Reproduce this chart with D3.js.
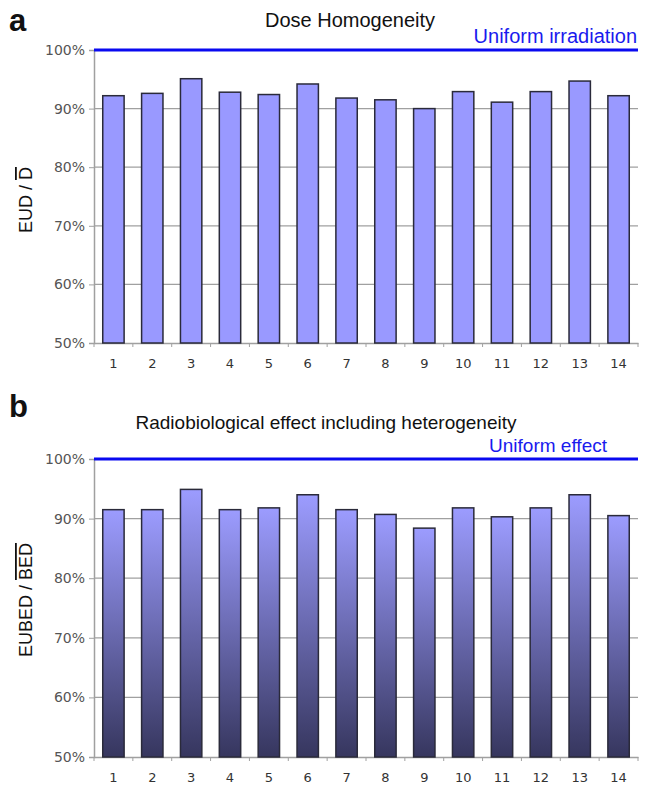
<!DOCTYPE html>
<html><head><meta charset="utf-8">
<script src="https://cdn.jsdelivr.net/npm/d3@7"></script>
<style>body{margin:0;background:#fff}</style>
</head><body>
<svg id="c" width="646" height="789"></svg>
<script>
const categories = ["1","2","3","4","5","6","7","8","9","10","11","12","13","14"];
const doseHomogeneity = [92.2, 92.6, 95.1, 92.8, 92.4, 94.2, 91.8, 91.5, 90.0, 92.9, 91.1, 92.9, 94.7, 92.2];
const radioEffect = [91.5, 91.5, 94.9, 91.5, 91.8, 94.0, 91.5, 90.7, 88.4, 91.8, 90.3, 91.8, 94.0, 90.5];
const yTicks = [50, 60, 70, 80, 90, 100];

const svg = d3.select("#c");
const defs = svg.append("defs");
const grad = defs.append("linearGradient").attr("id","g").attr("x1",0).attr("y1",0).attr("x2",0).attr("y2",1);
grad.append("stop").attr("offset","0%").attr("stop-color","#9c9cff");
grad.append("stop").attr("offset","100%").attr("stop-color","#36365e");

function panel(opt){
  const x = d3.scaleBand().domain(categories).range([94, 638]).paddingInner(0.45).paddingOuter(0.225);
  const y = d3.scaleLinear().domain([50,100]).range([opt.yb, opt.yt]);
  const g = svg.append("g");
  g.selectAll(".grid").data(yTicks.slice(1,5)).join("line")
    .attr("x1",94).attr("x2",638).attr("y1",d=>y(d)).attr("y2",d=>y(d))
    .attr("stroke","#a0a0a0").attr("stroke-width",1.2);
  const ya = g.append("g").attr("transform","translate(94,0)")
    .call(d3.axisLeft(y).tickValues(yTicks).tickFormat(d=>d+"%").tickSize(5).tickPadding(4));
  ya.select(".domain").attr("stroke","#a0a0a0").attr("stroke-width",1.5);
  ya.selectAll(".tick line").attr("stroke","#a0a0a0");
  ya.selectAll("text").attr("font-family","DejaVu Sans").attr("font-size",14).attr("fill","#555");
  const xa = g.append("g").attr("transform",`translate(0,${opt.yb})`)
    .call(d3.axisBottom(x).tickSize(0).tickPadding(16));
  xa.select(".domain").attr("stroke","#a0a0a0").attr("stroke-width",1.5);
  xa.selectAll("text").attr("font-family","DejaVu Sans").attr("font-size",13).attr("fill","#333");
  g.selectAll(".xt").data(d3.range(categories.length+1)).join("line")
    .attr("x1",d=>94+d*x.step()).attr("x2",d=>94+d*x.step())
    .attr("y1",opt.yb).attr("y2",opt.yb+4).attr("stroke","#a0a0a0");
  g.selectAll(".bar").data(opt.values).join("rect")
    .attr("x",(d,i)=>x(categories[i])).attr("width",x.bandwidth())
    .attr("y",d=>y(d)).attr("height",d=>y(50)-y(d))
    .attr("fill",opt.fill).attr("stroke","#2a2a3a").attr("stroke-width",1.5);
  g.append("line").attr("x1",94).attr("x2",638).attr("y1",y(100)).attr("y2",y(100))
    .attr("stroke","#0a0af0").attr("stroke-width",3);
  g.append("text").attr("x",opt.ulx).attr("y",y(100)-7).attr("text-anchor","end")
    .attr("font-family","Liberation Sans").attr("font-size",opt.ufs).attr("fill","#1a1aee").text(opt.uniform);
  g.append("text").attr("x",9).attr("y",opt.letterY).attr("font-family","Liberation Sans")
    .attr("font-weight","bold").attr("font-size",31).attr("fill","#111").text(opt.letter);
  g.append("text").attr("x",opt.titleX).attr("y",opt.titleY).attr("text-anchor","middle")
    .attr("font-family","Liberation Sans").attr("font-size",opt.tfs).attr("fill","#111").text(opt.title);
  const yl = g.append("text").attr("transform",`translate(32,${opt.ylY}) rotate(-90)`)
    .attr("text-anchor","middle").attr("font-family","Liberation Sans").attr("font-size",18).attr("fill","#111");
  yl.append("tspan").text(opt.ylab[0]);
  yl.append("tspan").attr("text-decoration","overline").text(opt.ylab[1]);
}

panel({values:doseHomogeneity, yt:50, yb:343, fill:"#9999ff", uniform:"Uniform irradiation", ulx:637, ufs:20,
  letter:"a", letterY:31, title:"Dose Homogeneity", titleX:350, titleY:27, tfs:20, ylY:200, ylab:["EUD / ","D"]});
panel({values:radioEffect, yt:459, yb:757, fill:"url(#g)", uniform:"Uniform effect", ulx:607, ufs:19,
  letter:"b", letterY:417, title:"Radiobiological effect including heterogeneity", titleX:326, titleY:429, tfs:19, ylY:600, ylab:["EUBED / ","BED"]});
</script>
</body></html>
